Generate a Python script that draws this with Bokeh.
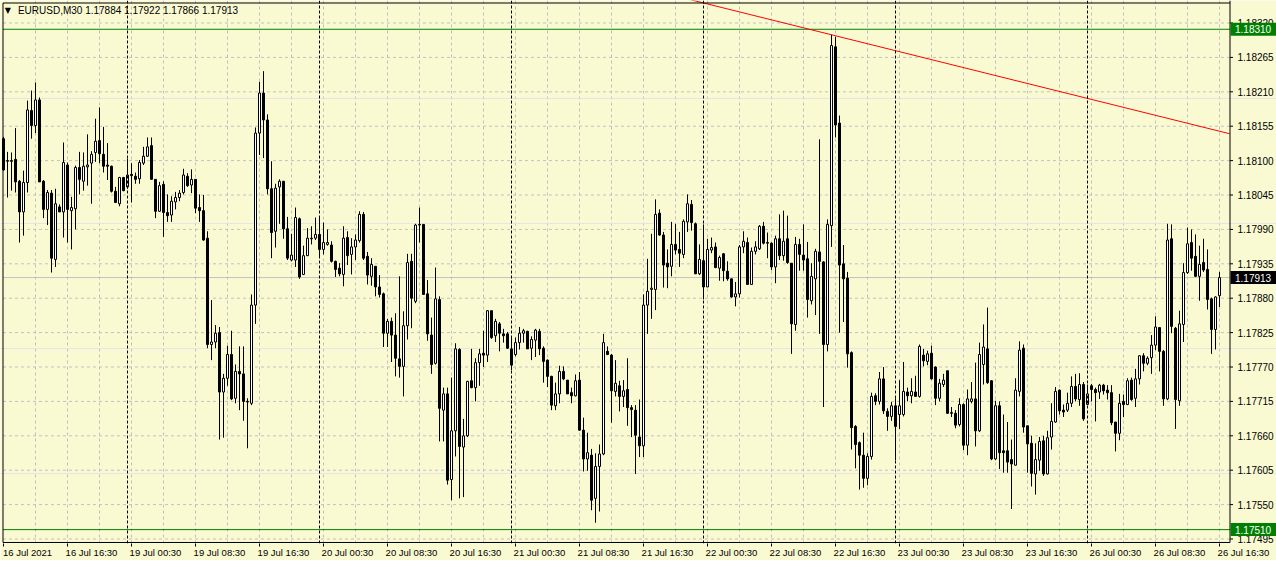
from bokeh.plotting import figure
from bokeh.models import FixedTicker, Span, Label, ColumnDataSource, Range1d
from bokeh.core.properties import value
from bokeh.embed import file_html
from bokeh.resources import INLINE

# ---- data: EURUSD M30, prices in points (1 point = 0.00001) ----
POINT = 1e-5
open_pts = [
118135,118100,118100,118102,118067,118018,118065,118180,118156,118197,
118067,118022,118048,117942,118026,118018,118093,118020,118023,118089,
118067,118090,118096,118113,118132,118110,118093,118091,118051,118031,
118073,118058,118078,118075,118071,118096,118107,118124,118070,118019,
118062,118017,118013,118034,118041,118049,118075,118061,118070,118025,
118020,117976,117806,117810,117825,117730,117752,117790,117720,117763,
117759,117715,117712,117869,118144,118208,118165,118055,117987,118058,
118067,117991,117941,117941,118007,117918,117948,117975,117976,117982,
117958,117966,117965,117939,117928,117918,117977,117950,117962,117972,
118014,117947,117915,117931,117898,117887,117824,117843,117821,117783,
117771,117836,117939,117875,117997,117998,117887,117821,117776,117878,
117701,117727,117590,117668,117798,117642,117660,117748,117737,117777,
117792,117789,117860,117820,117839,117823,117823,117799,117790,117809,
117824,117827,117800,117813,117827,117800,117781,117755,117708,117727,
117763,117749,117729,117724,117749,117669,117623,117629,117560,117611,
117631,117795,117789,117731,117740,117723,117734,117705,117701,117658,
117644,117869,117894,117894,118016,117981,117936,117931,117966,117958,
117950,118002,118030,117999,117919,117940,117898,117957,117962,117928,
117951,117923,117911,117882,117887,117962,117969,117902,117955,117959,
117995,117969,117968,117930,117975,117948,117975,117936,117838,117966,
117949,117943,117876,117911,117954,117938,117806,117996,118282,118160,
117935,117912,117793,117675,117649,117629,117592,117627,117724,117715,
117751,117699,117691,117708,117694,117694,117730,117724,117730,117723,
117789,117779,117792,117770,117720,117742,117764,117697,117696,117678,
117710,117645,117715,117719,117668,117774,117799,117748,117623,117708,
117636,117636,117622,117613,117731,117800,117676,117648,117599,117621,
117652,117599,117658,117682,117733,117701,117701,117712,117739,117718,
117742,117710,117740,117734,117730,117741,117733,117729,117682,117664,
117715,117710,117749,117720,117751,117788,117776,117785,117805,117833,
117795,117719,117975,117832,117716,117838,117921,117969,117947,117915,
117937,117926,117879,117830,117884]
high_pts = [
118138,118114,118113,118152,118069,118084,118196,118212,118225,118201,
118069,118053,118053,118055,118030,118129,118097,118042,118092,118114,
118113,118142,118115,118167,118185,118154,118128,118092,118058,118074,
118074,118103,118096,118081,118101,118122,118137,118137,118070,118066,
118067,118046,118043,118050,118053,118087,118080,118086,118070,118046,
118045,117987,117877,117837,117834,117759,117804,117828,117774,117803,
117803,117720,117886,118153,118226,118243,118174,118099,118063,118070,
118067,118010,117983,118025,118009,117964,117992,117995,118009,118010,
118001,117990,117971,117940,117936,117995,117987,117976,117982,118019,
118018,117954,117944,117931,117917,117889,117847,117849,117856,117915,
117859,117951,117951,117999,118025,117998,117909,117849,117929,117883,
117737,117737,117753,117808,117800,117687,117748,117799,117784,117799,
117828,117861,117860,117847,117842,117831,117826,117817,117817,117834,
117831,117828,117819,117831,117831,117803,117782,117756,117745,117772,
117771,117749,117737,117758,117762,117689,117665,117639,117632,117646,
117823,117803,117791,117781,117748,117749,117784,117709,117709,117718,
117886,117943,117983,118038,118022,117986,117958,118002,117999,117986,
118006,118046,118037,118001,117966,117998,117975,117977,117969,117948,
117952,117939,117911,117906,117965,117987,117977,117961,117971,117997,
118002,117985,117969,117980,118014,118020,118012,117936,117978,117975,
117998,117970,117936,117959,118134,117939,118006,118301,118298,118172,
117965,117922,117795,117677,117651,117665,117632,117729,117728,117762,
117770,117704,117714,117720,117749,117778,117737,117752,117756,117806,
117799,117796,117804,117771,117751,117759,117764,117706,117701,117720,
117712,117734,117746,117777,117809,117838,117865,117749,117716,117715,
117694,117682,117654,117752,117811,117806,117676,117660,117648,117658,
117660,117668,117712,117738,117734,117710,117729,117755,117759,117760,
117746,117742,117743,117737,117743,117743,117741,117741,117682,117727,
117726,117752,117753,117767,117789,117792,117787,117821,117851,117834,
117797,117999,117998,117834,117860,117936,117993,117990,117982,117964,
117975,117958,117881,117883,117922]
low_pts = [
118084,118041,118052,118049,117969,117980,118049,118135,118144,118066,
118008,117997,117921,117930,118018,117977,117969,117958,117990,118046,
118052,118060,118031,118098,118096,118081,118069,118049,118033,118027,
118051,118055,118033,118063,118063,118093,118106,118070,118008,118018,
117978,118002,118002,118022,118035,118046,118058,118048,118016,118002,
117972,117800,117781,117800,117654,117657,117740,117717,117712,117701,
117684,117640,117709,117839,118109,118104,118046,117944,117961,117999,
117975,117941,117939,117930,117911,117917,117948,117966,117973,117947,
117950,117964,117937,117914,117915,117899,117933,117918,117941,117969,
117941,117902,117900,117883,117881,117802,117802,117778,117755,117753,
117723,117814,117832,117872,117969,117886,117812,117759,117774,117651,
117651,117582,117557,117627,117560,117562,117658,117736,117715,117740,
117770,117778,117815,117810,117795,117809,117799,117765,117787,117798,
117809,117799,117781,117786,117789,117745,117738,117701,117701,117712,
117749,117727,117712,117723,117668,117603,117604,117541,117521,117539,
117629,117789,117681,117723,117699,117706,117676,117658,117599,117626,
117626,117823,117847,117861,117980,117897,117896,117915,117950,117930,
117944,117986,117988,117919,117917,117878,117898,117952,117928,117908,
117907,117908,117881,117867,117881,117952,117902,117902,117950,117957,
117966,117944,117925,117904,117941,117940,117935,117791,117828,117924,
117924,117849,117870,117853,117823,117706,117795,117962,118137,117825,
117842,117769,117638,117608,117574,117577,117581,117622,117709,117710,
117695,117668,117684,117621,117671,117691,117715,117712,117723,117721,
117771,117773,117750,117709,117715,117738,117695,117690,117672,117675,
117637,117629,117712,117643,117666,117742,117743,117621,117621,117607,
117601,117601,117543,117613,117723,117665,117601,117579,117566,117604,
117596,117598,117638,117681,117694,117690,117698,117706,117715,117708,
117684,117710,117715,117683,117719,117726,117718,117677,117635,117653,
117690,117709,117716,117706,117742,117763,117773,117759,117797,117763,
117708,117717,117824,117671,117708,117810,117919,117924,117914,117876,
117922,117862,117791,117798,117866]
close_pts = [
118085,118099,118099,118066,118018,118065,118181,118156,118197,118066,
118022,118049,117944,118031,118018,118097,118022,118025,118089,118070,
118091,118093,118110,118131,118111,118091,118091,118051,118033,118073,
118052,118077,118076,118070,118097,118107,118122,118070,118019,118060,
118017,118012,118035,118041,118048,118077,118060,118070,118024,118020,
117973,117806,117810,117824,117730,117752,117790,117719,117763,117759,
117715,117714,117869,118144,118208,118165,118055,117985,118056,118067,
117991,117944,117949,118009,117914,117948,117976,117976,117982,117958,
117969,117969,117939,117926,117919,117976,117948,117962,117973,118014,
117944,117917,117934,117898,117886,117824,117843,117821,117784,117771,
117836,117937,117880,117997,117998,117886,117823,117774,117879,117704,
117727,117589,117668,117799,117643,117660,117747,117737,117777,117791,
117789,117860,117817,117843,117824,117820,117800,117773,117809,117824,
117828,117799,117814,117829,117799,117779,117755,117709,117727,117763,
117751,117727,117724,117748,117669,117623,117633,117557,117611,117631,
117809,117790,117732,117744,117723,117732,117705,117702,117661,117644,
117869,117891,117896,118014,117981,117933,117930,117966,117957,117952,
118003,118031,118001,117919,117942,117898,117958,117961,117929,117945,
117924,117911,117882,117887,117962,117971,117902,117955,117962,117995,
117968,117968,117930,117975,117948,117971,117937,117839,117966,117950,
117941,117878,117915,117955,117939,117806,117998,118284,118157,117933,
117911,117791,117673,117646,117629,117592,117627,117723,117715,117751,
117700,117691,117708,117675,117708,117731,117724,117731,117723,117803,
117780,117791,117751,117720,117744,117749,117696,117696,117677,117710,
117645,117719,117719,117668,117790,117802,117745,117623,117708,117633,
117633,117618,117615,117733,117797,117674,117647,117600,117622,117651,
117599,117657,117683,117731,117700,117698,117712,117739,117719,117742,
117687,117727,117734,117729,117741,117732,117729,117681,117664,117712,
117710,117748,117718,117751,117788,117776,117784,117805,117834,117795,
117719,117973,117835,117718,117839,117921,117967,117944,117915,117934,
117925,117878,117830,117882,117913]

# time axis labels (bar index -> label)
x_label_bars = [0, 16, 32, 48, 64, 80, 96, 112, 128, 144, 160, 176, 192, 208,
                224, 240, 256, 272, 288, 304]
x_labels = ["16 Jul 2021", "16 Jul 16:30", "19 Jul 00:30", "19 Jul 08:30",
            "19 Jul 16:30", "20 Jul 00:30", "20 Jul 08:30", "20 Jul 16:30",
            "21 Jul 00:30", "21 Jul 08:30", "21 Jul 16:30", "22 Jul 00:30",
            "22 Jul 08:30", "22 Jul 16:30", "23 Jul 00:30", "23 Jul 08:30",
            "23 Jul 16:30", "26 Jul 00:30", "26 Jul 08:30", "26 Jul 16:30"]
day_start_bars = [31, 79, 127, 175, 223, 271]
y_ticks = [1.17495, 1.17550, 1.17605, 1.17660, 1.17715, 1.17770, 1.17825,
           1.17880, 1.17935, 1.17990, 1.18045, 1.18100, 1.18155, 1.18210,
           1.18265, 1.18320]
hlines_green = [1.18310, 1.17510]
bid_price = 1.17913
trend_x = [170, 306.5]
trend_y = [1.18360, 1.18143]
title_text = "EURUSD,M30  1.17884 1.17922 1.17866 1.17913"

# ---- layout constants ----
FW, FH = 1276, 543                                # frame size (px)
PX = 4.0                                          # pixels per bar
X0, X1 = -0.75, -0.75 + FW / PX                   # visible bar range
X_LEFT, X_AXIS = -0.125, 306.625                  # chart border / price-axis line
Y0, Y1 = 1.174878, 1.183560                       # visible price range
Y_BOT, Y_TOP = 1.174894, 1.183520                 # chart border (price)
BG = "#FAFAD2"
GRID = "#C0C0C0"
FONT = "Liberation Sans"

n = len(close_pts)
idx = list(range(n))
O = [v * POINT for v in open_pts]
H = [v * POINT for v in high_pts]
L = [v * POINT for v in low_pts]
C = [v * POINT for v in close_pts]
bull = [i for i in idx if C[i] >= O[i]]
bear = [i for i in idx if C[i] < O[i]]

p = figure(frame_width=FW, frame_height=FH,
           x_range=Range1d(X0, X1), y_range=Range1d(Y0, Y1),
           x_axis_location="below", y_axis_location=None,
           output_backend="svg", toolbar_location=None,
           background_fill_color=BG, border_fill_color=BG,
           min_border_left=0, min_border_top=0, min_border_right=0,
           min_border_bottom=0, outline_line_color=None)

# vertical grid every 8 bars
p.xgrid.ticker = FixedTicker(ticks=list(range(8, 305, 8)))
p.xgrid.grid_line_color = GRID
p.xgrid.grid_line_dash = "3 3"

# horizontal grid at the price ticks (only across the chart area)
p.segment(x0=[X_LEFT] * len(y_ticks), y0=y_ticks, x1=[X_AXIS] * len(y_ticks), y1=y_ticks,
          line_color=GRID, line_dash="3 3", line_width=1)

# x axis (bottom): labels start at their bar -> shift the centred labels right
OFF = 6.0
xa = p.xaxis[0]
shifted = [b + OFF for b in x_label_bars]
xa.ticker = FixedTicker(ticks=shifted, minor_ticks=x_label_bars)
xa.major_label_overrides = {s: t for s, t in zip(shifted, x_labels)}
xa.major_tick_line_color = None
xa.major_tick_in = 0
xa.major_tick_out = 0
xa.minor_tick_in = 0
xa.minor_tick_out = 3
xa.minor_tick_line_color = "black"
xa.major_label_text_font = FONT
xa.major_label_text_font_size = "9.5px"
xa.major_label_text_line_height = 1.0
xa.major_label_text_color = "black"
xa.major_label_standoff = 0
xa.axis_line_color = None

# day separators
for d in day_start_bars:
    p.add_layout(Span(location=d, dimension="height", line_color="black",
                      line_dash="3 2", line_width=1))

# horizontal level lines
p.segment(x0=[X_LEFT, X_LEFT], y0=hlines_green, x1=[X_AXIS, X_AXIS], y1=hlines_green,
          line_color="#008000", line_width=1)
p.segment(x0=[X_LEFT], y0=[bid_price], x1=[X_AXIS], y1=[bid_price],
          line_color=GRID, line_width=1)

# trend line
p.line(trend_x, trend_y, line_color="#FF0000", line_width=1)

# candles
src_all = ColumnDataSource(dict(x=idx, h=H, l=L))
p.segment(x0="x", y0="h", x1="x", y1="l", source=src_all, line_color="black", line_width=1)
src_bull = ColumnDataSource(dict(x=bull, top=[C[i] for i in bull], bottom=[O[i] for i in bull]))
src_bear = ColumnDataSource(dict(x=bear, top=[O[i] for i in bear], bottom=[C[i] for i in bear]))
p.vbar(x="x", width=0.5, top="top", bottom="bottom", source=src_bull,
       fill_color="white", line_color="black", line_width=1)
p.vbar(x="x", width=0.5, top="top", bottom="bottom", source=src_bear,
       fill_color="black", line_color="black", line_width=1)

# chart border + price-axis line
p.segment(x0=[X_LEFT, X_LEFT, X_LEFT, X_AXIS], y0=[Y_TOP, Y_BOT, Y_BOT, Y_BOT],
          x1=[X_AXIS, X_AXIS, X_LEFT, X_AXIS], y1=[Y_TOP, Y_BOT, Y_TOP, Y1],
          line_color="black", line_width=1)

# price-axis ticks and labels
p.segment(x0=[X_AXIS] * len(y_ticks), y0=y_ticks, x1=[X_AXIS + 3 / PX] * len(y_ticks),
          y1=y_ticks, line_color="black", line_width=1)
p.text(x=[X_AXIS + 7.5 / PX] * len(y_ticks), y=y_ticks, text=["%.5f" % v for v in y_ticks],
       text_font=value(FONT), text_font_size=value("10px"), text_color="black",
       text_align="left", text_baseline="middle")

# price boxes on the axis
box_prices = [hlines_green[0], bid_price, hlines_green[1]]
box_colors = ["#008000", "black", "#008000"]
p.rect(x=[X_AXIS + 23.5 / PX] * 3, y=box_prices, width=46, height=13,
       width_units="screen", height_units="screen",
       fill_color=box_colors, line_color=None)
p.text(x=[X_AXIS + 5 / PX] * 3, y=box_prices, text=["%.5f" % v for v in box_prices],
       text_font=value(FONT), text_font_size=value("10px"), text_color="white",
       text_align="left", text_baseline="middle")

# title inside chart
p.add_layout(Label(x=1.1, y=1.18340, text="\u25BC", text_font="DejaVu Sans",
                   text_font_size="8px", text_color="black", text_baseline="middle",
                   text_align="center"))
p.add_layout(Label(x=3.6, y=1.18340, text=title_text, text_font=FONT,
                   text_font_size="10px", text_color="black", text_baseline="middle"))

open("out.html", "w").write(file_html(p, INLINE))
